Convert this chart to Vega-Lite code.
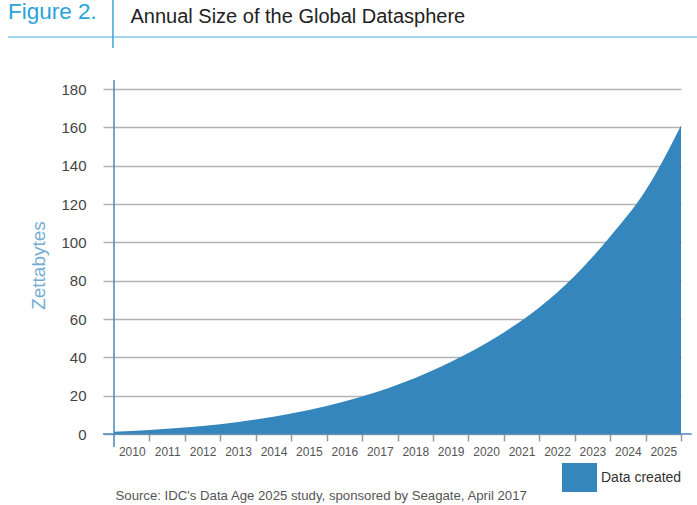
{
  "$schema": "https://vega.github.io/schema/vega-lite/v6.json",
  "width": 567,
  "height": 345,
  "autosize": {"type": "none"},
  "padding": {"left": 114, "top": 89, "right": 16, "bottom": 71},
  "background": "white",
  "config": {"view": {"stroke": null}, "font": "Liberation Sans"},
  "title": {
    "text": "Figure 2.",
    "anchor": "start",
    "frame": "group",
    "dx": -106,
    "offset": -42,
    "baseline": "alphabetic",
    "fontSize": 22.5,
    "fontWeight": "normal",
    "color": "#2ba3dc"
  },
  "layer": [
    {
      "data": {
        "values": [
          {"year": 2009.5, "zb": 1.2, "series": "Data created"},
          {"year": 2010.5, "zb": 2.1, "series": "Data created"},
          {"year": 2011.5, "zb": 3.4, "series": "Data created"},
          {"year": 2012.5, "zb": 5.1, "series": "Data created"},
          {"year": 2013.5, "zb": 7.6, "series": "Data created"},
          {"year": 2014.5, "zb": 10.7, "series": "Data created"},
          {"year": 2015.5, "zb": 14.6, "series": "Data created"},
          {"year": 2016.5, "zb": 19.6, "series": "Data created"},
          {"year": 2017.5, "zb": 25.7, "series": "Data created"},
          {"year": 2018.5, "zb": 33.3, "series": "Data created"},
          {"year": 2019.5, "zb": 42.3, "series": "Data created"},
          {"year": 2020.5, "zb": 53.0, "series": "Data created"},
          {"year": 2021.5, "zb": 66.0, "series": "Data created"},
          {"year": 2022.5, "zb": 82.5, "series": "Data created"},
          {"year": 2023.5, "zb": 103, "series": "Data created"},
          {"year": 2024.5, "zb": 127, "series": "Data created"},
          {"year": 2025.5, "zb": 161, "series": "Data created"}
        ]
      },
      "layer": [
        {
          "mark": {"type": "area", "interpolate": "monotone"},
          "encoding": {
            "x": {
              "field": "year",
              "type": "quantitative",
              "scale": {"domain": [2009.5, 2025.5], "nice": false, "zero": false},
              "axis": {
                "values": [2010, 2011, 2012, 2013, 2014, 2015, 2016, 2017, 2018, 2019, 2020, 2021, 2022, 2023, 2024, 2025],
                "format": "d",
                "tickOffset": 17.72,
                "labelOffset": -17.72,
                "tickSize": 7,
                "tickColor": "#999999",
                "tickWidth": 1.5,
                "labelPadding": 5,
                "labelFontSize": 12,
                "labelColor": "#555555",
                "labelFlush": false,
                "labelOverlap": false,
                "labelBound": false,
                "domain": false,
                "grid": false,
                "title": "Source: IDC's Data Age 2025 study, sponsored by Seagate, April 2017",
                "titleX": 1,
                "titleY": 65,
                "titleAnchor": "start",
                "titleAlign": "left",
                "titleBaseline": "alphabetic",
                "titleFontSize": 13.2,
                "titleFontWeight": "normal",
                "titleColor": "#555555"
              }
            },
            "y": {
              "field": "zb",
              "type": "quantitative",
              "scale": {"domain": [0, 180], "nice": false},
              "axis": {
                "values": [0, 20, 40, 60, 80, 100, 120, 140, 160, 180],
                "tickSize": 11,
                "tickColor": "#b3b3b3",
                "tickWidth": 1.5,
                "gridColor": "#b3b3b3",
                "gridWidth": 1.5,
                "domain": false,
                "labelPadding": 17,
                "labelFontSize": 15,
                "labelColor": "#444444",
                "labelOverlap": false,
                "title": "Zettabytes",
                "titleColor": "#77acd2",
                "titleFontSize": 19,
                "titleFontWeight": "normal",
                "titleX": -76,
                "titleY": 176,
                "titleAngle": 270,
                "titleAlign": "center",
                "titleBaseline": "middle"
              }
            },
            "color": {
              "field": "series",
              "type": "nominal",
              "scale": {"range": ["#3486bc"]},
              "legend": {
                "title": null,
                "orient": "none",
                "legendX": 448,
                "legendY": 371,
                "padding": 0,
                "symbolType": "M-1,-0.83L1,-0.83L1,0.83L-1,0.83Z",
                "symbolSize": 1225,
                "symbolStrokeWidth": 0,
                "labelFontSize": 14,
                "labelColor": "#333333",
                "labelOffset": 4,
                "encode": {"symbols": {"update": {"fill": {"value": "#2491d4"}, "opacity": {"value": 1}}}}
              }
            }
          }
        },
        {
          "data": {"values": [{}]},
          "mark": {"type": "rule", "color": "#4a87bd", "strokeWidth": 1.5},
          "encoding": {
            "x": {
              "datum": 2009.19,
              "type": "quantitative",
              "axis": {
                "values": [2010, 2011, 2012, 2013, 2014, 2015, 2016, 2017, 2018, 2019, 2020, 2021, 2022, 2023, 2024, 2025],
                "format": "d",
                "tickOffset": 17.72,
                "labelOffset": -17.72,
                "tickSize": 7,
                "tickColor": "#999999",
                "tickWidth": 1.5,
                "labelPadding": 5,
                "labelFontSize": 12,
                "labelColor": "#555555",
                "labelFlush": false,
                "labelOverlap": false,
                "labelBound": false,
                "domain": false,
                "grid": false,
                "title": "Source: IDC's Data Age 2025 study, sponsored by Seagate, April 2017",
                "titleX": 1,
                "titleY": 65,
                "titleAnchor": "start",
                "titleAlign": "left",
                "titleBaseline": "alphabetic",
                "titleFontSize": 13.2,
                "titleFontWeight": "normal",
                "titleColor": "#555555"
              }
            },
            "x2": {"datum": 2025.8},
            "y": {
              "datum": 0,
              "type": "quantitative",
              "axis": {
                "values": [0, 20, 40, 60, 80, 100, 120, 140, 160, 180],
                "tickSize": 11,
                "tickColor": "#b3b3b3",
                "tickWidth": 1.5,
                "gridColor": "#b3b3b3",
                "gridWidth": 1.5,
                "domain": false,
                "labelPadding": 17,
                "labelFontSize": 15,
                "labelColor": "#444444",
                "labelOverlap": false,
                "title": "Zettabytes",
                "titleColor": "#77acd2",
                "titleFontSize": 19,
                "titleFontWeight": "normal",
                "titleX": -76,
                "titleY": 176,
                "titleAngle": 270,
                "titleAlign": "center",
                "titleBaseline": "middle"
              }
            }
          }
        },
        {
          "data": {"values": [{}]},
          "mark": {"type": "rule", "color": "#4a87bd", "strokeWidth": 1.5},
          "encoding": {
            "x": {
              "datum": 2009.5,
              "type": "quantitative",
              "axis": {
                "values": [2010, 2011, 2012, 2013, 2014, 2015, 2016, 2017, 2018, 2019, 2020, 2021, 2022, 2023, 2024, 2025],
                "format": "d",
                "tickOffset": 17.72,
                "labelOffset": -17.72,
                "tickSize": 7,
                "tickColor": "#999999",
                "tickWidth": 1.5,
                "labelPadding": 5,
                "labelFontSize": 12,
                "labelColor": "#555555",
                "labelFlush": false,
                "labelOverlap": false,
                "labelBound": false,
                "domain": false,
                "grid": false,
                "title": "Source: IDC's Data Age 2025 study, sponsored by Seagate, April 2017",
                "titleX": 1,
                "titleY": 65,
                "titleAnchor": "start",
                "titleAlign": "left",
                "titleBaseline": "alphabetic",
                "titleFontSize": 13.2,
                "titleFontWeight": "normal",
                "titleColor": "#555555"
              }
            },
            "y": {
              "datum": -6.8,
              "type": "quantitative",
              "axis": {
                "values": [0, 20, 40, 60, 80, 100, 120, 140, 160, 180],
                "tickSize": 11,
                "tickColor": "#b3b3b3",
                "tickWidth": 1.5,
                "gridColor": "#b3b3b3",
                "gridWidth": 1.5,
                "domain": false,
                "labelPadding": 17,
                "labelFontSize": 15,
                "labelColor": "#444444",
                "labelOverlap": false,
                "title": "Zettabytes",
                "titleColor": "#77acd2",
                "titleFontSize": 19,
                "titleFontWeight": "normal",
                "titleX": -76,
                "titleY": 176,
                "titleAngle": 270,
                "titleAlign": "center",
                "titleBaseline": "middle"
              }
            },
            "y2": {"datum": 184.7}
          }
        },
        {
          "data": {"values": [{}]},
          "mark": {"type": "rule", "color": "#86c7e8", "strokeWidth": 1.5},
          "encoding": {
            "x": {
              "datum": 2006.51,
              "type": "quantitative",
              "axis": {
                "values": [2010, 2011, 2012, 2013, 2014, 2015, 2016, 2017, 2018, 2019, 2020, 2021, 2022, 2023, 2024, 2025],
                "format": "d",
                "tickOffset": 17.72,
                "labelOffset": -17.72,
                "tickSize": 7,
                "tickColor": "#999999",
                "tickWidth": 1.5,
                "labelPadding": 5,
                "labelFontSize": 12,
                "labelColor": "#555555",
                "labelFlush": false,
                "labelOverlap": false,
                "labelBound": false,
                "domain": false,
                "grid": false,
                "title": "Source: IDC's Data Age 2025 study, sponsored by Seagate, April 2017",
                "titleX": 1,
                "titleY": 65,
                "titleAnchor": "start",
                "titleAlign": "left",
                "titleBaseline": "alphabetic",
                "titleFontSize": 13.2,
                "titleFontWeight": "normal",
                "titleColor": "#555555"
              }
            },
            "x2": {"datum": 2025.95},
            "y": {
              "datum": 207.1,
              "type": "quantitative",
              "axis": {
                "values": [0, 20, 40, 60, 80, 100, 120, 140, 160, 180],
                "tickSize": 11,
                "tickColor": "#b3b3b3",
                "tickWidth": 1.5,
                "gridColor": "#b3b3b3",
                "gridWidth": 1.5,
                "domain": false,
                "labelPadding": 17,
                "labelFontSize": 15,
                "labelColor": "#444444",
                "labelOverlap": false,
                "title": "Zettabytes",
                "titleColor": "#77acd2",
                "titleFontSize": 19,
                "titleFontWeight": "normal",
                "titleX": -76,
                "titleY": 176,
                "titleAngle": 270,
                "titleAlign": "center",
                "titleBaseline": "middle"
              }
            }
          }
        }
      ]
    },
    {
      "data": {"values": [{}]},
      "mark": {"type": "rule", "color": "#3ea6dc", "strokeWidth": 1.5},
      "encoding": {
        "x": {
          "datum": 2009.47,
          "type": "quantitative",
          "scale": {"domain": [2009.5, 2025.5], "nice": false, "zero": false},
          "axis": {
            "orient": "top",
            "title": "Annual Size of the Global Datasphere",
            "labels": false,
            "ticks": false,
            "domain": false,
            "grid": false,
            "titleX": 16,
            "titleY": -67,
            "titleAnchor": "start",
            "titleAlign": "left",
            "titleBaseline": "alphabetic",
            "titleFontSize": 20,
            "titleFontWeight": "normal",
            "titleColor": "#222222"
          }
        },
        "y": {
          "datum": 201.4,
          "type": "quantitative",
          "axis": {
            "values": [0, 20, 40, 60, 80, 100, 120, 140, 160, 180],
            "tickSize": 11,
            "tickColor": "#b3b3b3",
            "tickWidth": 1.5,
            "gridColor": "#b3b3b3",
            "gridWidth": 1.5,
            "domain": false,
            "labelPadding": 17,
            "labelFontSize": 15,
            "labelColor": "#444444",
            "labelOverlap": false,
            "title": "Zettabytes",
            "titleColor": "#77acd2",
            "titleFontSize": 19,
            "titleFontWeight": "normal",
            "titleX": -76,
            "titleY": 176,
            "titleAngle": 270,
            "titleAlign": "center",
            "titleBaseline": "middle"
          }
        },
        "y2": {"datum": 226.4}
      }
    }
  ],
  "resolve": {"scale": {"x": "independent"}, "axis": {"x": "independent"}}
}
